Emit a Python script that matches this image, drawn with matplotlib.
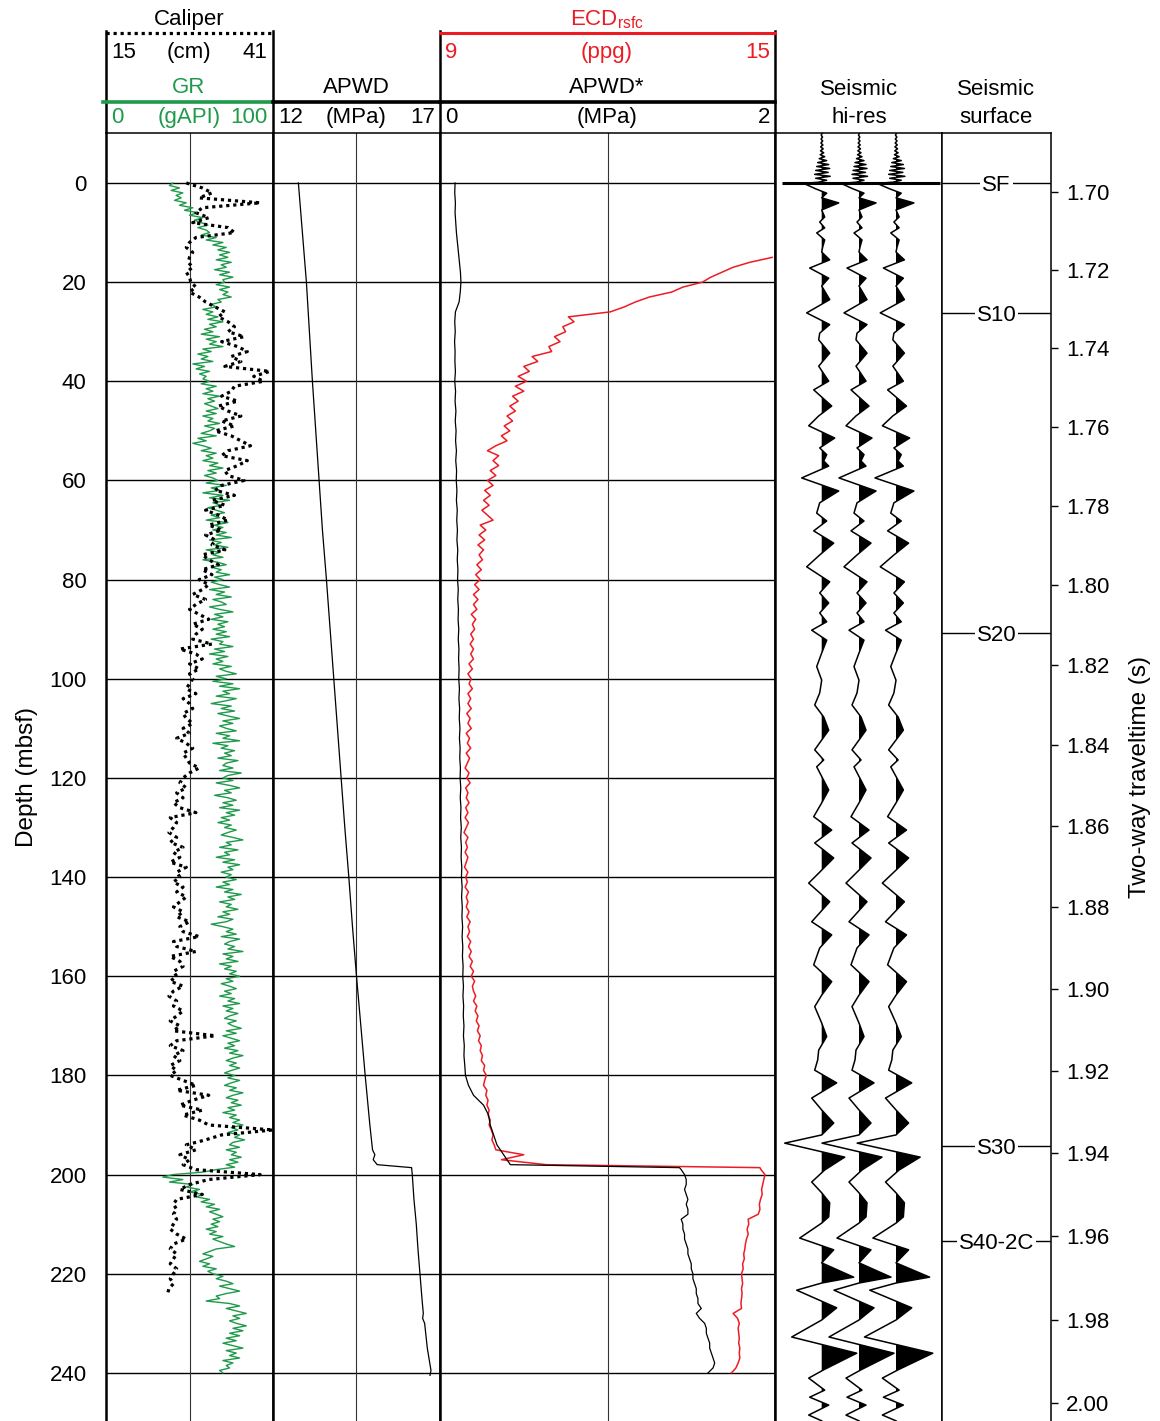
import numpy as np
import matplotlib.pyplot as plt

plt.rcParams['font.family'] = ['Liberation Sans', 'DejaVu Sans']
plt.rcParams['mathtext.fontset'] = 'custom'
plt.rcParams['mathtext.rm'] = 'Liberation Sans'
plt.rcParams['font.size'] = 16

GREEN = '#1f9a4b'
RED = '#ed1c24'

# Gamma ray (gAPI), sampled every 0.5 m from the seafloor
gr = np.array([
    40, 38, 44, 39, 46, 42, 45, 41, 48, 44, 52, 47, 55, 50, 58, 53, 57, 61, 55, 60,
    62, 57, 66, 60, 70, 64, 72, 67, 74, 68, 73, 66, 75, 69, 72, 65, 74, 68, 76, 70,
    71, 66, 74, 68, 73, 70, 75, 67, 69, 63, 66, 58, 64, 60, 67, 61, 70, 62, 66, 59,
    64, 57, 68, 60, 66, 62, 70, 58, 63, 55, 61, 57, 64, 52, 59, 54, 62, 56, 60, 58,
    62, 57, 66, 60, 64, 58, 68, 61, 65, 59, 63, 67, 60, 66, 58, 64, 61, 68, 59, 65,
    62, 57, 66, 55, 60, 52, 58, 63, 57, 66, 60, 64, 58, 67, 62, 70, 61, 66, 59, 64,
    67, 60, 72, 63, 68, 58, 70, 62, 74, 64, 69, 61, 66, 71, 63, 68, 60, 73, 65, 70,
    64, 72, 66, 75, 62, 69, 65, 73, 60, 68, 64, 70, 58, 67, 72, 63, 69, 66, 74, 65,
    70, 63, 68, 74, 62, 71, 66, 75, 64, 69, 72, 62, 68, 76, 65, 70, 63, 73, 67, 71,
    64, 72, 66, 74, 63, 70, 68, 76, 65, 71, 62, 73, 66, 70, 64, 75, 68, 72, 78, 66,
    72, 64, 76, 68, 80, 70, 74, 66, 78, 71, 63, 75, 69, 77, 67, 73, 80, 70, 76, 68,
    72, 78, 66, 74, 70, 80, 64, 73, 69, 77, 71, 75, 67, 79, 72, 70, 76, 68, 81, 73,
    70, 76, 66, 74, 80, 71, 75, 65, 73, 78, 70, 76, 68, 80, 72, 77, 69, 74, 67, 75,
    71, 78, 73, 69, 76, 82, 72, 75, 68, 79, 71, 74, 66, 77, 70, 80, 73, 76, 69, 75,
    72, 78, 70, 74, 66, 76, 71, 81, 73, 77, 68, 75, 72, 79, 70, 74, 67, 76, 72, 63,
    70, 76, 72, 78, 69, 80, 74, 71, 77, 73, 82, 70, 76, 72, 79, 68, 75, 71, 78, 74,
    80, 72, 76, 69, 74, 78, 71, 75, 68, 77, 73, 80, 70, 76, 72, 79, 74, 71, 78, 73,
    76, 81, 72, 78, 70, 75, 80, 73, 77, 71, 79, 74, 82, 76, 72, 78, 74, 80, 75, 71,
    77, 73, 80, 75, 71, 78, 74, 82, 76, 72, 79, 75, 81, 73, 77, 70, 78, 74, 80, 76,
    82, 75, 79, 73, 80, 77, 83, 76, 74, 80, 72, 78, 75, 81, 74, 79, 72, 77, 66, 58,
    40, 34, 46, 38, 52, 48, 56, 50, 58, 54, 62, 57, 65, 60, 68, 62, 66, 70, 64, 68,
    63, 67, 60, 66, 62, 70, 64, 68, 72, 77, 66, 62, 58, 64, 60, 56, 62, 58, 66, 61,
    64, 70, 66, 72, 76, 68, 74, 80, 72, 66, 68, 60, 74, 80, 72, 78, 84, 76, 80, 74,
    78, 84, 76, 82, 74, 80, 72, 78, 70, 76, 82, 72, 78, 74, 80, 70, 76, 72, 74, 68,
    70])
gr_depth = np.arange(len(gr)) * 0.5

# Caliper (cm), every 1 m
cal = np.array([
    27.5, 30, 31.5, 29.5, 39, 30, 29, 31, 28.5, 34,
    35, 29, 28, 27.5, 28.5, 28, 27.8, 28.5, 27.5, 28,
    28.2, 29, 28, 29.5, 30.5, 32, 33.5, 32.5, 34, 35,
    34, 36.5, 33, 35.5, 37, 34.5, 36, 33.5, 40.5, 38,
    39.5, 35, 34.5, 33, 35.5, 32.5, 34, 36, 33, 35,
    32, 34.5, 36, 37.5, 34, 33, 37, 35.5, 33.5, 34,
    36.5, 33, 32, 35, 31.5, 33.5, 30.5, 32.5, 34, 31,
    33, 30.5, 32, 31.5, 33.5, 30, 31, 32.5, 30, 31.5,
    29.5, 31, 30, 28.5, 30.5, 29, 28, 29.5, 31, 28.5,
    30, 29, 28.5, 31.5, 26.5, 29, 30, 28, 29.5, 28,
    28.5, 28, 27.5, 29, 27, 28, 28.5, 27, 27.5, 28.5,
    27, 28, 26, 27.5, 28.5, 27, 27.5, 28, 29.5, 28,
    27, 26.5, 27.5, 26, 27, 25.5, 26.5, 29, 25, 26,
    25.5, 24.8, 26, 25, 27, 25.5, 26.5, 25, 27.5, 26,
    26.5, 25.5, 27, 26, 27.5, 26.5, 25.5, 27, 26, 28,
    26.5, 27, 29.5, 25.5, 26, 29, 25, 26.5, 27, 25.5,
    26, 25, 27, 25.5, 24.8, 26, 25.5, 27, 26, 25,
    26.5, 25.5, 32, 26, 25, 27, 25.5, 26.5, 25, 26,
    25, 27, 29, 26, 31, 28.5, 26.5, 30, 27, 29.5,
    31, 41, 33, 30.5, 27.5, 29, 26.5, 28, 27, 29,
    39, 31, 28, 26.5, 30, 26, 25.5, 26, 25.5, 26,
    25.5, 25, 26, 27.5, 25.5, 25, 26, 25.5, 25, 26,
    25.5, 25, 25.5, 24.8, 24.6])
cal_depth = np.arange(len(cal)) * 1.0

# APWD (MPa)
apwd_depth = np.array([0, 10, 20, 30, 40, 50, 60, 70, 80, 90, 100, 110, 120, 130,
                       140, 150, 160, 170, 180, 190, 195, 196, 197, 198, 198.6,
                       200, 205, 210, 215, 220, 225, 228, 229, 230, 235, 239.5, 240.5])
apwd = np.array([12.76, 12.88, 13.0, 13.09, 13.18, 13.28, 13.38, 13.48, 13.6, 13.71,
                 13.82, 13.93, 14.04, 14.15, 14.27, 14.38, 14.5, 14.63, 14.76, 14.9,
                 14.98, 15.05, 15.0, 15.12, 16.15,
                 16.17, 16.22, 16.29, 16.34, 16.4, 16.46, 16.5, 16.48, 16.54, 16.62,
                 16.73, 16.7])

# APWD* (MPa): every 2 m above the casing step, then every 1 m below
aps_upper = np.array([
    0.090, 0.088, 0.092, 0.090, 0.094, 0.098, 0.104, 0.110, 0.116, 0.122,
    0.125, 0.121, 0.114, 0.092, 0.088, 0.091, 0.087, 0.090, 0.089, 0.092,
    0.088, 0.093, 0.090, 0.095, 0.091, 0.096, 0.093, 0.098, 0.094, 0.099,
    0.097, 0.101, 0.098, 0.103, 0.100, 0.104, 0.101, 0.106, 0.103, 0.107,
    0.105, 0.109, 0.106, 0.110, 0.108, 0.112, 0.109, 0.113, 0.111, 0.114,
    0.112, 0.116, 0.113, 0.117, 0.115, 0.119, 0.116, 0.120, 0.118, 0.122,
    0.120, 0.124, 0.121, 0.125, 0.123, 0.127, 0.124, 0.128, 0.126, 0.130,
    0.128, 0.132, 0.129, 0.133, 0.131, 0.135, 0.132, 0.136, 0.134, 0.138,
    0.136, 0.140, 0.137, 0.141, 0.139, 0.143, 0.140, 0.145, 0.143, 0.148,
    0.152, 0.170, 0.200, 0.260, 0.290, 0.300, 0.320, 0.340, 0.380, 0.420])
aps_upper_depth = np.arange(len(aps_upper)) * 2.0
aps_lower = np.array([
    1.43,
    1.44, 1.46, 1.47, 1.47, 1.46, 1.47, 1.48, 1.47, 1.48, 1.48,
    1.44, 1.45, 1.45, 1.46, 1.46, 1.47, 1.48, 1.48, 1.49, 1.50,
    1.50, 1.51, 1.51, 1.52, 1.53, 1.53, 1.54, 1.54, 1.56, 1.53,
    1.55, 1.58, 1.59, 1.59, 1.60, 1.61, 1.61, 1.62, 1.63, 1.64,
    1.63, 1.60])
lower_depth = np.r_[198.6, np.arange(199, 241)]

# ECD referenced to sea surface (ppg)
ecd_upper = np.array([
    14.95, 14.55, 14.25, 14.05, 13.85, 13.7, 13.35, 13.15, 12.75, 12.5,
    12.3, 12.05, 11.3, 11.4, 11.2, 11.25, 11.05, 11.15, 10.95, 11.0,
    10.65, 10.75, 10.5, 10.6, 10.4, 10.55, 10.35, 10.5, 10.3, 10.4,
    10.25, 10.35, 10.2, 10.3, 10.15, 10.25, 10.1, 10.2, 10.0, 9.85,
    10.05, 9.95, 10.05, 9.9, 10.0, 9.85, 9.95, 9.8, 9.9, 9.78,
    9.88, 9.75, 9.85, 9.95, 9.72, 9.82, 9.7, 9.8, 9.68, 9.78,
    9.7, 9.76, 9.66, 9.74, 9.64, 9.72, 9.62, 9.7, 9.6, 9.68,
    9.6, 9.66, 9.56, 9.64, 9.58, 9.62, 9.55, 9.6, 9.54, 9.6,
    9.55, 9.6, 9.52, 9.58, 9.5, 9.56, 9.52, 9.58, 9.5, 9.55,
    9.5, 9.56, 9.48, 9.54, 9.5, 9.56, 9.47, 9.53, 9.49, 9.55,
    9.47, 9.53, 9.49, 9.45, 9.52, 9.48, 9.54, 9.46, 9.5, 9.47,
    9.52, 9.46, 9.5, 9.45, 9.51, 9.47, 9.43, 9.5, 9.46, 9.49,
    9.45, 9.5, 9.47, 9.44, 9.5, 9.46, 9.49, 9.45, 9.51, 9.47,
    9.5, 9.47, 9.52, 9.48, 9.54, 9.5, 9.53, 9.49, 9.55, 9.51,
    9.56, 9.52, 9.58, 9.54, 9.6, 9.56, 9.62, 9.58, 9.6, 9.64,
    9.6, 9.66, 9.63, 9.68, 9.65, 9.7, 9.67, 9.72, 9.69, 9.74,
    9.72, 9.76, 9.74, 9.8, 9.78, 9.83, 9.8, 9.78, 9.84, 9.82,
    9.86, 9.84, 9.88, 9.86, 9.9, 9.88, 9.92, 9.95, 9.93, 9.97,
    10.0, 10.5, 10.1, 10.9])
ecd_upper_depth = 15 + np.arange(len(ecd_upper)) * 1.0
ecd_lower = np.array([
    14.73,
    14.75, 14.82, 14.8, 14.78, 14.76, 14.77, 14.74, 14.72, 14.73, 14.7,
    14.52, 14.53, 14.5, 14.52, 14.49, 14.47, 14.46, 14.44, 14.45, 14.42,
    14.43, 14.4, 14.41, 14.42, 14.4, 14.41, 14.4, 14.39, 14.4, 14.25,
    14.33, 14.36, 14.34, 14.35, 14.36, 14.35, 14.37, 14.36, 14.37, 14.34,
    14.3, 14.22])

# Time-depth pairs (two-way traveltime in s vs mbsf)
td_twt = np.array([1.6977, 1.70, 1.72, 1.74, 1.76, 1.78, 1.80, 1.82, 1.84, 1.86,
                   1.88, 1.90, 1.92, 1.94, 1.96, 1.98, 2.00])
td_depth = np.array([0.0, 1.82, 17.55, 33.28, 49.21, 65.15, 81.08, 97.22, 113.35,
                     129.69, 146.03, 162.57, 179.11, 195.64, 212.38, 229.33, 246.07])
twt_ticks = [1.70, 1.72, 1.74, 1.76, 1.78, 1.80, 1.82, 1.84, 1.86, 1.88,
             1.90, 1.92, 1.94, 1.96, 1.98, 2.00]

# High-resolution seismic trace: water-column noise then reflection events
noise_amp = np.array([0.5, -0.5, 0.8, -0.6, 1.0, -0.8, 1.2, -1.0, 1.5, -1.2,
                      2.0, -1.5, 3.0, -2.5, 5.0, -4.0, 7.0, -5.0, 8.0, -6.0,
                      6.5, -7.0, 8.5, -6.0, 5.0, -3.0])
noise_twt = 1.6850 + 0.0005 * np.arange(len(noise_amp))
trace_twt = np.array([
    1.6978, 1.6992, 1.7003, 1.7015, 1.7028, 1.7046, 1.7064, 1.7077, 1.7092, 1.7105,
    1.7123, 1.7141, 1.7154, 1.7174, 1.7195, 1.7221, 1.7241, 1.7276, 1.7310, 1.7340,
    1.7362, 1.7379, 1.7413, 1.7446, 1.7484, 1.7506, 1.7547, 1.7572, 1.7597, 1.7628,
    1.7653, 1.7670, 1.7686, 1.7699, 1.7729, 1.7762, 1.7792, 1.7818, 1.7838, 1.7863,
    1.7894, 1.7924, 1.7954, 1.7992, 1.8020, 1.8045, 1.8070, 1.8092, 1.8113, 1.8138,
    1.8170, 1.8204, 1.8238, 1.8270, 1.8300, 1.8330, 1.8363, 1.8412, 1.8437, 1.8454,
    1.8511, 1.8543, 1.8577, 1.8610, 1.8642, 1.8679, 1.8709, 1.8741, 1.8787, 1.8836,
    1.8868, 1.8900, 1.8941, 1.8982, 1.9015, 1.9043, 1.9083, 1.9116, 1.9149, 1.9173,
    1.9198, 1.9229, 1.9266, 1.9295, 1.9327, 1.9356, 1.9376, 1.9410, 1.9441, 1.9470,
    1.9496, 1.9520, 1.9554, 1.9569, 1.9605, 1.9633, 1.9664, 1.9698, 1.9712, 1.9729,
    1.9771, 1.9800, 1.9841, 1.9880, 1.9920, 1.9940, 1.9969, 1.9986, 2.0005, 2.0029,
    2.0043])
trace_amp = np.array([
    -18, -6, 5, 0, 17, 0, 3, -2, 3, -5,
    3, 1, 0, 8, -12, 7, 0, 8, -15, 8,
    -2, -3, 8, -3, 7, -8, 10, -3, -13, 13,
    -2, 5, 2, 7, -20, 17, -2, -5, 5, -8,
    12, -2, -15, 8, -2, 7, -2, 5, -10, 5,
    0, -5, 0, -2, -7, 2, 7, -7, 2, -5,
    7, 0, -8, 10, -7, 12, 0, -13, 8, -10,
    10, -2, -8, 10, 0, -7, 0, 5, -3, -4,
    -7, 15, -10, 0, 12, 0, -37, 23, 3, -10,
    0, 8, 7, 0, -22, 12, 0, 32, 0, -25,
    15, 0, -30, 35, 2, -13, 3, -12, 7, -13,
    0])
trace_offsets = [46.7, 84.0, 121.0]
trace_gains = [1.0, 1.0, 1.05]

horizons = ['SF', 'S10', 'S20', 'S30', 'S40-2C']
horizon_depth = [0.0, 26.2, 90.8, 194.2, 213.4]

depth_top, depth_bottom = -10.08, 249.7

W, H = 1160, 1421
fig = plt.figure(figsize=(W / 100, H / 100), dpi=100)


def track(x0, x1, y0=133, y1=1421):
    ax = fig.add_axes([x0 / W, 1 - y1 / H, (x1 - x0) / W, (y1 - y0) / H])
    ax.set_ylim(depth_bottom, depth_top)
    ax.set_xticks([])
    ax.set_yticks([])
    ax.spines['bottom'].set_visible(False)
    ax.spines['top'].set_linewidth(1.1)
    return ax


def twt_to_depth(t):
    t = np.asarray(t, float)
    d = np.interp(t, td_twt, td_depth)
    s0 = (td_depth[1] - td_depth[0]) / (td_twt[1] - td_twt[0])
    s1 = (td_depth[-1] - td_depth[-2]) / (td_twt[-1] - td_twt[-2])
    lo, hi = t < td_twt[0], t > td_twt[-1]
    d[lo] = td_depth[0] + (t[lo] - td_twt[0]) * s0
    d[hi] = td_depth[-1] + (t[hi] - td_twt[-1]) * s1
    return d


def log_grid(ax, mid):
    for d in range(0, 241, 20):
        ax.axhline(d, color='k', lw=1.0, zorder=1)
    ax.axvline(mid, color='#333333', lw=0.8, zorder=1)
    for side in ('left', 'right'):
        ax.spines[side].set_linewidth(1.8)


# Track 1: GR and caliper
ax_gr = track(106, 273)
ax_gr.set_xlim(0, 100)
log_grid(ax_gr, 50)
ax_gr.plot(gr, gr_depth, color=GREEN, lw=1.0, zorder=3)
ax_cal = ax_gr.twiny()
ax_cal.set_xlim(15, 41)
ax_cal.set_xticks([])
ax_cal.spines[:].set_visible(False)
ax_cal.plot(cal, cal_depth, color='k', lw=2.3, linestyle=(0, (1, 1.2)), zorder=4)
ax_gr.set_yticks(range(0, 241, 20))
ax_gr.tick_params(axis='y', length=0, pad=14, labelsize=16)
ax_gr.set_ylabel('Depth (mbsf)', fontsize=17.5, labelpad=8)

# Track 2: APWD
ax_ap = track(273, 440)
ax_ap.set_xlim(12, 17)
log_grid(ax_ap, 14.5)
ax_ap.plot(apwd, apwd_depth, color='k', lw=0.9, zorder=3)

# Track 3: ECD and APWD*
ax_ecd = track(440, 775)
ax_ecd.set_xlim(9, 15)
log_grid(ax_ecd, 12)
ax_aps = ax_ecd.twiny()
ax_aps.set_xlim(0, 2)
ax_aps.set_xticks([])
ax_aps.spines[:].set_visible(False)
ax_aps.plot(np.r_[aps_upper, aps_lower], np.r_[aps_upper_depth, lower_depth],
            color='k', lw=0.9, zorder=3)
ax_ecd.plot(np.r_[ecd_upper, ecd_lower], np.r_[ecd_upper_depth, lower_depth],
            color=RED, lw=1.1, zorder=4)

# Track 4: seismic hi-res traces
ax_s = track(775, 942)
ax_s.set_xlim(0, 167)
ax_s.spines['left'].set_linewidth(1.8)
ax_s.spines['right'].set_linewidth(1.1)
t_all = np.r_[noise_twt, trace_twt]
a_all = np.r_[noise_amp, trace_amp]
z_all = twt_to_depth(t_all)
for off, g in zip(trace_offsets, trace_gains):
    x = off + g * a_all
    ax_s.fill_betweenx(z_all, off, x, where=a_all > 0, interpolate=True,
                       color='k', lw=0, zorder=2)
    ax_s.plot(x, z_all, color='k', lw=1.1, zorder=3)
ax_s.hlines(horizon_depth[0], 7, 165, color='k', lw=2.2, zorder=4)

# Track 5: seismic surface horizons and traveltime axis
ax_h = track(942, 1051)
ax_h.set_xlim(0, 1)
for s in ('left', 'right'):
    ax_h.spines[s].set_linewidth(1.1)
for name, d in zip(horizons, horizon_depth):
    ax_h.axhline(d, color='k', lw=1.0)
    ax_h.text(0.5, d, name, ha='center', va='center_baseline', fontsize=16,
              bbox=dict(facecolor='white', edgecolor='none', pad=1.5))
ax_h.yaxis.tick_right()
ax_h.yaxis.set_label_position('right')
ax_h.set_yticks(np.interp(twt_ticks, td_twt, td_depth))
ax_h.set_yticklabels([f'{t:.2f}' for t in twt_ticks])
ax_h.tick_params(axis='y', direction='out', length=5, width=1, pad=6, labelsize=16)
ax_h.set_ylabel('Two-way traveltime (s)', fontsize=17.5, labelpad=14)

# Header block with scales
hdr = fig.add_axes([0, 1 - 133 / H, 1, 133 / H])
hdr.set_xlim(0, W)
hdr.set_ylim(133, 0)
hdr.axis('off')


def head(x, y, s, ha='center', color='k'):
    hdr.text(x, y + 2.5, s, ha=ha, va='center', color=color)


for x in (106, 273, 440, 775):
    hdr.plot([x, x], [31, 133], color='k', lw=1.8)
head(189, 17, 'Caliper')
hdr.plot([106, 273], [33, 33], color='k', lw=2.3, linestyle=(0, (1, 1.2)))
head(111, 50, '15', 'left')
head(189, 50, '(cm)')
head(267, 50, '41', 'right')
head(189, 85, 'GR', color=GREEN)
hdr.plot([103, 270], [102, 102], color=GREEN, lw=2.6)
head(111, 115, '0', 'left', GREEN)
head(189, 115, '(gAPI)', color=GREEN)
head(268, 115, '100', 'right', GREEN)

head(356, 85, 'APWD')
hdr.plot([273, 440], [102, 102], color='k', lw=2.6)
head(278, 115, '12', 'left')
head(356, 115, '(MPa)')
head(435, 115, '17', 'right')

head(607, 17, r'ECD$_{\mathrm{rsfc}}$', color=RED)
hdr.plot([440, 775], [33, 33], color=RED, lw=2.2)
head(445, 50, '9', 'left', RED)
head(607, 50, '(ppg)', color=RED)
head(770, 50, '15', 'right', RED)
head(607, 85, 'APWD*')
hdr.plot([440, 775], [102, 102], color='k', lw=2.6)
head(445, 115, '0', 'left')
head(607, 115, '(MPa)')
head(770, 115, '2', 'right')

head(859, 87, 'Seismic')
head(859, 115, 'hi-res')
head(996, 87, 'Seismic')
head(996, 115, 'surface')

fig.savefig('out.png', dpi=100)
